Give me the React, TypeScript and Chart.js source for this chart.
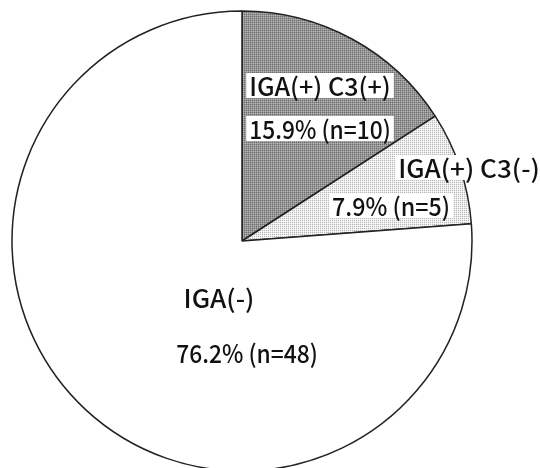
import React, { useEffect, useRef } from "react";
import { Chart, registerables } from "chart.js";

Chart.register(...registerables);

const categories = ["IGA(+) C3(+)", "IGA(+) C3(-)", "IGA(-)"];
const counts = [10, 5, 48];

// label anchor offsets (px) from the pie centre: [nameX, nameY, valueX, valueY, boxed]
const labelLayout: [number, number, number, number, boolean][] = [
  [78, -156, 78, -113, true],
  [227, -74, 149, -36, true],
  [-23, 56, 5, 111, false],
];

function makePattern(cells: string[][]): CanvasPattern | string {
  const c = document.createElement("canvas");
  c.width = cells[0].length;
  c.height = cells.length;
  const g = c.getContext("2d");
  if (!g) return "#999";
  cells.forEach((row, y) =>
    row.forEach((col, x) => {
      g.fillStyle = col;
      g.fillRect(x, y, 1, 1);
    })
  );
  return g.createPattern(c, "repeat") || "#999";
}

const FONT = '500 25px "Noto Sans CJK JP", "Noto Sans", sans-serif';
const CHAR_W = 11.8; // horizontal advance per character, as in the reference's half-width gothic

const labelPlugin = {
  id: "pieLabels",
  afterDatasetsDraw(chart: any) {
    const { ctx, chartArea } = chart;
    const cx = (chartArea.left + chartArea.right) / 2;
    const cy = (chartArea.top + chartArea.bottom) / 2;
    const total = counts.reduce((a, b) => a + b, 0);
    ctx.save();
    ctx.font = FONT;
    ctx.textAlign = "center";
    ctx.textBaseline = "middle";
    categories.forEach((name, i) => {
      const pct = ((counts[i] / total) * 100).toFixed(1);
      const lines = [name, `${pct}% (n=${counts[i]})`];
      const [nx, ny, vx, vy, boxed] = labelLayout[i];
      const pos = [
        [cx + nx, cy + ny],
        [cx + vx, cy + vy],
      ];
      lines.forEach((t, j) => {
        const [x, y] = pos[j];
        const natural = ctx.measureText(t).width;
        const w = t.length * CHAR_W;
        if (boxed) {
          ctx.fillStyle = "#ffffff";
          ctx.fillRect(x - w / 2 - 3, y - 12, w + 6, 25);
        }
        ctx.save();
        ctx.translate(x, y + 1);
        ctx.scale(w / natural, 1);
        ctx.fillStyle = "#111111";
        ctx.fillText(t, 0, 0);
        ctx.restore();
      });
    });
    ctx.restore();
  },
};

export default function App() {
  const ref = useRef<HTMLCanvasElement>(null);
  useEffect(() => {
    if (!ref.current) return;
    const dark = makePattern([
      ["#6c6c6c", "#989898"],
      ["#989898", "#b2b2b2"],
    ]);
    const light = makePattern([
      ["#b8b8b8", "#ececec"],
      ["#ececec", "#ffffff"],
    ]);
    const chart = new Chart(ref.current, {
      type: "pie",
      data: {
        labels: categories,
        datasets: [
          {
            data: counts,
            backgroundColor: [dark, light, "#ffffff"] as any,
            borderColor: "#222222",
            borderWidth: 1.5,
            hoverOffset: 0,
            clip: false as any,
          },
        ],
      },
      options: {
        animation: false,
        responsive: false,
        radius: 230,
        layout: { padding: { left: 12, right: 68, top: 14, bottom: 0 } },
        plugins: {
          legend: { display: false },
          tooltip: { enabled: false },
        },
        events: [],
      } as any,
      plugins: [labelPlugin],
    });
    return () => chart.destroy();
  }, []);
  return (
    <div style={{ position: "fixed", left: 0, top: 0, width: 540, height: 468, background: "#fff" }}>
      <canvas ref={ref} width={540} height={468} style={{ width: 540, height: 468, display: "block" }} />
    </div>
  );
}
